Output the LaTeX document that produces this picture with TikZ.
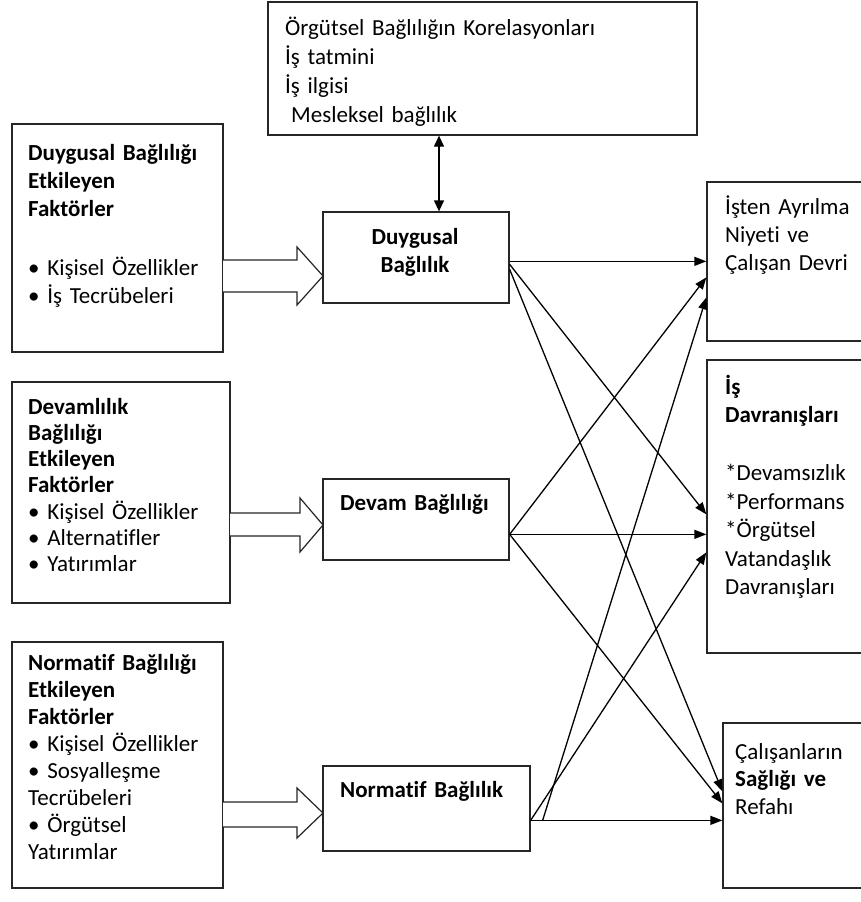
\documentclass[tikz,border=0pt]{standalone}
\usepackage{fontspec}
\setmainfont{Carlito}[Ligatures={NoCommon}]
\usetikzlibrary{arrows.meta}
\begin{document}
\begin{tikzpicture}[x=1pt,y=-1pt,
  boxnode/.style={draw=black!85, line width=1.3pt, inner sep=0pt, rectangle, fill=none},
  txt/.style={anchor=base west, inner sep=0pt, align=left, text width=#1},
  ctxt/.style={anchor=base, inner sep=0pt, align=center, text width=#1},
  conn/.style={draw=black, line width=1.3pt, -{Triangle[length=12pt,width=9pt]}},
  dconn/.style={draw=black, line width=1.3pt, {Triangle[length=11pt,width=10pt]}-{Triangle[length=11pt,width=10pt]}},
  blockarrow/.style={draw=black!85, line width=1.2pt, fill=white, line join=miter}
]
\clip (0,0) rectangle (861,902);
\fill[white] (0,0) rectangle (861,902);

% boxes
\node[boxnode, minimum width=429pt, minimum height=133pt] (top) at (482.5,68.5) {};
\node[boxnode, minimum width=211pt, minimum height=228pt] (L1) at (117.5,238) {};
\node[boxnode, minimum width=218pt, minimum height=221pt] (L2) at (121,492.5) {};
\node[boxnode, minimum width=211pt, minimum height=246pt] (L3) at (117.5,765) {};
\node[boxnode, minimum width=186pt, minimum height=91pt] (M1) at (416,257.5) {};
\node[boxnode, minimum width=186pt, minimum height=81pt] (M2) at (416,519.5) {};
\node[boxnode, minimum width=207pt, minimum height=85pt] (M3) at (426.5,808.5) {};
\node[boxnode, minimum width=173pt, minimum height=159pt] (R1) at (793.5,261.5) {};
\node[boxnode, minimum width=173pt, minimum height=293pt] (R2) at (793.5,506.5) {};
\node[boxnode, minimum width=157pt, minimum height=165pt] (R3) at (801.5,805.5) {};

% texts
\node[txt=420pt, font={\fontsize{23}{29}\selectfont}] (t0) at (285,35)
  {Örgütsel Bağlılığın Korelasyonları\\İş tatmini\\İş ilgisi\\\hspace*{6pt}Mesleksel bağlılık};
\node[txt=200pt, font={\fontsize{23}{28}\selectfont}] (t1) at (28,160)
  {\textbf{Duygusal Bağlılığı}\\\textbf{Etkileyen}\\\textbf{Faktörler}\\[31pt]• Kişisel Özellikler\\• İş Tecrübeleri};
\node[txt=200pt, font={\fontsize{23}{26.3}\selectfont}] (t2) at (28,414)
  {\textbf{Devamlılık}\\\textbf{Bağlılığı}\\\textbf{Etkileyen}\\\textbf{Faktörler}\\• Kişisel Özellikler\\• Alternatifler\\• Yatırımlar};
\node[txt=200pt, font={\fontsize{23}{27}\selectfont}] (t3) at (28,670)
  {\textbf{Normatif Bağlılığı}\\\textbf{Etkileyen}\\\textbf{Faktörler}\\• Kişisel Özellikler\\• Sosyalleşme\\Tecrübeleri\\• Örgütsel\\Yatırımlar};
\node[ctxt=186pt, font={\fontsize{23}{28}\selectfont\bfseries}] (tm1) at (415,244)
  {Duygusal\\Bağlılık};
\node[txt=180pt, font={\fontsize{23}{28}\selectfont\bfseries}] (tm2) at (340,510)
  {Devam Bağlılığı};
\node[txt=190pt, font={\fontsize{23}{28}\selectfont\bfseries}] (tm3) at (340,797)
  {Normatif Bağlılık};
\node[txt=150pt, font={\fontsize{23}{28}\selectfont}] (tr1) at (725,214)
  {İşten Ayrılma\\Niyeti ve\\Çalışan Devri};
\node[txt=150pt, font={\fontsize{23}{28.5}\selectfont}] (tr2) at (725,394)
  {\textbf{İş}\\\textbf{Davranışları}\\[29.5pt]{*}Devamsızlık\\{*}Performans\\{*}Örgütsel\\Vatandaşlık\\Davranışları};
\node[txt=140pt, font={\fontsize{23}{27.5}\selectfont}] (tr3) at (735,759)
  {Çalışanların\\\textbf{Sağlığı ve}\\Refahı};

% block arrows
\draw[blockarrow] (223,260) -- (297,260) -- (297,247) -- (323,276) -- (297,305) -- (297,292) -- (223,292);
\draw[blockarrow] (230,513) -- (300,513) -- (300,498) -- (323,525) -- (300,552) -- (300,536) -- (230,536);
\draw[blockarrow] (223,802) -- (297,802) -- (297,788) -- (323,813) -- (297,838) -- (297,827) -- (223,827);

% double arrow
\draw[dconn] ([xshift=-43.5pt]top.south) -- ([xshift=23pt]M1.north);

% Duygusal
\draw[conn] ([yshift=-50pt]M1.north east) -- ([yshift=-80pt]R1.north west);
\draw[conn] ([yshift=-53pt]M1.north east) -- ([yshift=-155pt]R2.north west);
\draw[conn] ([yshift=-58pt]M1.north east) -- ([yshift=-69pt]R3.north west);
% Devam
\draw[conn] ([yshift=-56pt]M2.north east) -- ([yshift=-96pt]R1.north west);
\draw[conn] ([yshift=-56pt]M2.north east) -- ([yshift=-175pt]R2.north west);
\draw[conn] ([yshift=-56pt]M2.north east) -- ([yshift=-81pt]R3.north west);
% Normatif
\draw[conn] ([xshift=12pt,yshift=-55pt]M3.north east) -- ([yshift=-116pt]R1.north west);
\draw[conn] ([yshift=-55pt]M3.north east) -- ([yshift=-193pt]R2.north west);
\draw[conn] ([yshift=-55pt]M3.north east) -- ([yshift=-98pt]R3.north west);
\end{tikzpicture}
\end{document}
